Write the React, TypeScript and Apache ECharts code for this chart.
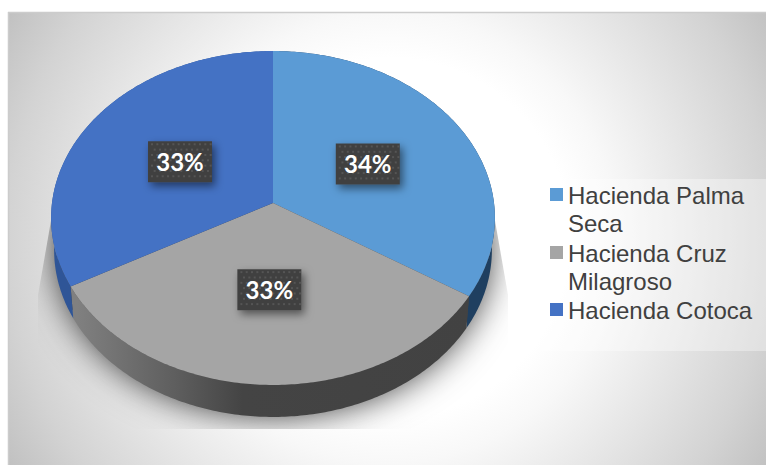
import React, { useEffect, useRef } from "react";
import * as echarts from "echarts";

const sliceNames = ["Hacienda Palma Seca", "Hacienda Cruz Milagroso", "Hacienda Cotoca"];
const sliceValues = [34, 33, 33];
const sliceColors = ["#5b9bd5", "#a5a5a5", "#4472c4"];
const legendLines = [["Hacienda Palma", "Seca"], ["Hacienda Cruz", "Milagroso"], ["Hacienda Cotoca"]];

const total = sliceValues.reduce((a, b) => a + b, 0);

// Perspective projection of the tilted disc: near edge looks larger than the far edge.
const persp = 0.0898;
const project = (deg: number, r: number, cy: number, a: number, b: number): number[] => {
  const t = (deg * Math.PI) / 180;
  const u = Math.sin(t) * r;
  const v = -Math.cos(t) * r;
  const w = 1 - persp * v;
  return [273 + (a * u) / w, cy + (b * v) / w];
};
const topPoint = (deg: number, r = 1) => project(deg, r, 203, 221, 165.6);
const basePoint = (deg: number) => project(deg, 1, 235, 218, 165.6);

const sweep = (from: number, to: number, fn: (d: number) => number[]) => {
  const pts: number[][] = [];
  for (let d = from; d < to; d += 0.75) pts.push(fn(d));
  pts.push(fn(to));
  return pts;
};

const sliceRange = (i: number) => {
  const before = sliceValues.slice(0, i).reduce((a, b) => a + b, 0);
  return [(before / total) * 360, ((before + sliceValues[i]) / total) * 360];
};

const wallFills: any[] = [
  "#1f3f60",
  {
    type: "linear", global: true, x: 77, y: 0, x2: 472, y2: 0,
    colorStops: [
      { offset: 0, color: "#808080" },
      { offset: 0.25, color: "#5e5e5e" },
      { offset: 0.42, color: "#444444" },
      { offset: 1, color: "#424242" },
    ],
  },
  "#2f5597",
];

// Soft cast shadow: its source stays hidden under the disc, only the blur shows around it.
const renderShadow = () => ({
  type: "polygon",
  shape: { points: sweep(0, 360, (d) => project(d, 1, 234, 215, 164)) },
  style: { fill: "#444444", shadowBlur: 36, shadowColor: "rgba(0,0,0,0.85)", shadowOffsetX: 0, shadowOffsetY: 0 },
  clipPath: {
    type: "polygon",
    shape: { points: [[59, 175], [38, 295], [38, 429], [508, 429], [508, 295], [487, 175]] },
  },
});

const renderWall = (params: any) => {
  const i = params.dataIndex;
  const [a0, a1] = sliceRange(i);
  const points = [...sweep(a0, a1, topPoint), ...sweep(a0, a1, basePoint).reverse()];
  return { type: "polygon", shape: { points }, style: { fill: wallFills[i] } };
};

const renderFace = (params: any, api: any) => {
  const i = params.dataIndex;
  const [a0, a1] = sliceRange(i);
  const points = [topPoint(0, 0), ...sweep(a0, a1, topPoint)];
  const [lx, ly] = topPoint((a0 + a1) / 2, 0.5);
  const w = 64;
  const h = 41;
  const dots: any[] = [];
  for (let row = 0; row < 8; row++) {
    for (let col = 0; col < 12; col++) {
      const dx = 3 + col * 5.33 + (row % 2 ? 2.66 : 0);
      const dy = 2 + row * 5.33;
      if (dx > w - 2 || dy > h - 2) continue;
      dots.push({
        type: "rect",
        shape: { x: lx - w / 2 + dx, y: ly - h / 2 + dy, width: 2, height: 2 },
        style: { fill: "#555555" },
      });
    }
  }
  return {
    type: "group",
    children: [
      { type: "polygon", shape: { points }, style: { fill: sliceColors[i] } },
      {
        type: "rect",
        shape: { x: lx - w / 2, y: ly - h / 2, width: w, height: h },
        style: { fill: "#404040", shadowBlur: 8, shadowOffsetX: 3, shadowOffsetY: 4, shadowColor: "rgba(0,0,0,0.5)" },
      },
      ...dots,
      {
        type: "text",
        x: lx,
        y: ly,
        style: {
          text: `${api.value(0)}%`,
          fill: "#ffffff",
          font: 'bold 24px Lato, sans-serif',
          align: "center",
          verticalAlign: "middle",
        },
      },
    ],
  };
};

// Legend rows: swatch beside the first line, wrapped lines stacked below it.
const legendGraphic = () => {
  const els: any[] = [];
  const swatchY = [188, 246, 303];
  const firstBaseline = [195, 253, 310];
  legendLines.forEach((lines, i) => {
    els.push({
      type: "rect",
      shape: { x: 550, y: swatchY[i], width: 13, height: 13 },
      style: { fill: sliceColors[i] },
      z: 5,
    });
    lines.forEach((line, k) => {
      els.push({
        type: "text",
        x: 568,
        y: firstBaseline[i] + k * 28,
        style: {
          text: line,
          fill: "#404040",
          font: '24px "Liberation Sans", Arial, sans-serif',
          verticalAlign: "middle",
        },
        z: 5,
      });
    });
  });
  return els;
};

export default function App() {
  const ref = useRef<HTMLDivElement>(null);
  useEffect(() => {
    document.body.style.margin = "0";
    const chart = echarts.init(ref.current!, null, { renderer: "svg" });
    const data = sliceValues.map((v, i) => ({ name: sliceNames[i], value: v }));
    chart.setOption({
      animation: false,
      backgroundColor: "#ffffff",
      tooltip: { show: false },
      graphic: [
        {
          type: "rect",
          z: -10,
          shape: { x: 8, y: 12, width: 758, height: 453 },
          style: {
            fill: {
              type: "radial", global: true, x: 390, y: 238, r: 450,
              colorStops: [
                { offset: 0, color: "#ffffff" },
                { offset: 0.4, color: "#ffffff" },
                { offset: 0.5, color: "#f8f8f8" },
                { offset: 0.85, color: "#d3d3d3" },
                { offset: 1, color: "#bfbfbf" },
              ],
            },
          },
        },
        { type: "line", z: -9, shape: { x1: 8, y1: 12.5, x2: 766, y2: 12.5 }, style: { stroke: "#cccccc", lineWidth: 1.5 } },
        { type: "line", z: -9, shape: { x1: 8.5, y1: 12, x2: 8.5, y2: 465 }, style: { stroke: "#cccccc", lineWidth: 1.5 } },
        {
          type: "rect",
          z: 4,
          shape: { x: 534, y: 179, width: 232, height: 172 },
          style: { fill: "rgba(255,255,255,0.35)" },
        },
        ...legendGraphic(),
      ],
      series: [
        { type: "custom", coordinateSystem: "none", silent: true, clip: false, data: [total], renderItem: renderShadow },
        { type: "custom", coordinateSystem: "none", silent: true, clip: false, data, renderItem: renderWall },
        { type: "custom", coordinateSystem: "none", silent: true, clip: false, data, renderItem: renderFace },
      ],
    });
    return () => chart.dispose();
  }, []);
  return <div ref={ref} style={{ width: 766, height: 465 }} />;
}
